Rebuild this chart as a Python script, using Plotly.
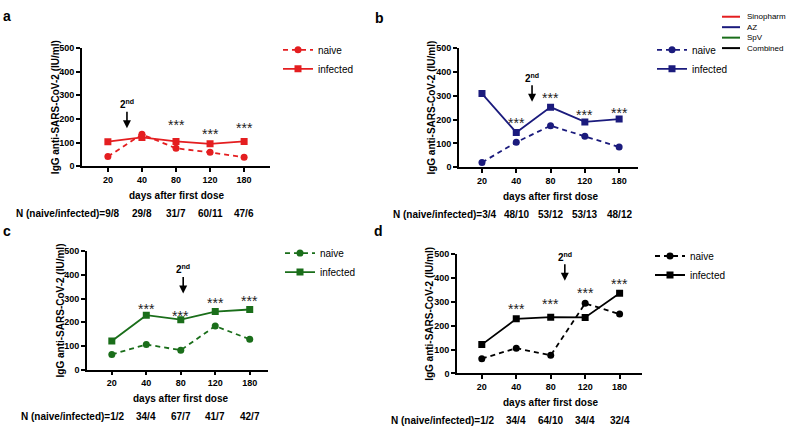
import plotly.graph_objects as go

W, H = 787, 442
FONT = "Liberation Sans, Arial, sans-serif"

# ---------------- data ----------------
days = ["20", "40", "80", "120", "180"]

a_naive = [41, 135, 76, 59, 38]
a_infected = [104, 122, 105, 95, 105]
b_naive = [20, 105, 174, 130, 85]
b_infected = [309, 146, 252, 190, 202]
c_naive = [64, 106, 82, 184, 128]
c_infected = [121, 230, 211, 245, 254]
d_naive = [62, 106, 76, 294, 249]
d_infected = [121, 229, 236, 235, 336]

a_n = ["N (naive/infected)=9/8", "29/8", "31/7", "60/11", "47/6"]
b_n = ["N (naive/infected)=3/4", "48/10", "53/12", "53/13", "48/12"]
c_n = ["N (naive/infected)=1/2", "34/4", "67/7", "41/7", "42/7"]
d_n = ["N (naive/infected)=1/2", "34/4", "64/10", "34/4", "32/4"]

vaccines = ["Sinopharm", "AZ", "SpV", "Combined"]
vaccine_colors = ["#e41e20", "#1b1b7d", "#1a6e1a", "#000000"]

# ---------------- layout config (pixels) ----------------
panels = [
    dict(label="a", naive=a_naive, infected=a_infected, n=a_n, color=vaccine_colors[0],
         box=(82, 270, 44, 165), xr=(-0.76, 4.76),
         stars=[(2, 186), (3, 149), (4, 174)], dose=(0.56, 161),
         legend_xy=(318, 53), label_xy=(7, 11)),
    dict(label="b", naive=b_naive, infected=b_infected, n=b_n, color=vaccine_colors[1],
         box=(459, 638, 44, 166), xr=(-0.67, 4.55),
         stars=[(1, 197), (2, 303), (3, 230), (4, 242)], dose=(1.46, 275),
         legend_xy=(692, 53), label_xy=(379, 13)),
    dict(label="c", naive=c_naive, infected=c_infected, n=c_n, color=vaccine_colors[2],
         box=(87, 268, 252, 373), xr=(-0.72, 4.53),
         stars=[(1, 269), (2, 240), (3, 293), (4, 302)], dose=(2.07, 322),
         legend_xy=(320, 261), label_xy=(7, 231)),
    dict(label="d", naive=d_naive, infected=d_infected, n=d_n, color=vaccine_colors[3],
         box=(457, 642, 255, 377), xr=(-0.72, 4.65),
         stars=[(1, 282), (2, 303), (3, 348), (4, 389)], dose=(2.41, 389),
         legend_xy=(690, 264), label_xy=(378, 231)),
]


def px(x):
    return x / W


def py(y):
    return 1 - y / H


fig = go.Figure()
annotations = []
shapes = []
layout = {}

for i, p in enumerate(panels, start=1):
    xa = "x" if i == 1 else f"x{i}"
    ya = "y" if i == 1 else f"y{i}"
    lg = "legend" if i == 1 else f"legend{i}"
    x0, x1, y0, y1 = p["box"]
    col = p["color"]

    fig.add_trace(go.Scatter(
        x=days, y=p["naive"], name="naive", mode="lines+markers",
        line=dict(color=col, width=1.8, dash="5px,4px"),
        marker=dict(symbol="circle", size=7, color=col),
        xaxis=xa, yaxis=ya, legend=lg))
    fig.add_trace(go.Scatter(
        x=days, y=p["infected"], name="infected", mode="lines+markers",
        line=dict(color=col, width=1.8),
        marker=dict(symbol="square", size=7, color=col),
        xaxis=xa, yaxis=ya, legend=lg))

    axis_common = dict(showline=True, linecolor="black", linewidth=1.6,
                       ticks="outside", ticklen=4, tickwidth=1.6, tickcolor="black",
                       showgrid=False, zeroline=False,
                       tickfont=dict(family=FONT, size=9, color="black", weight="bold"))
    layout["xaxis" if i == 1 else f"xaxis{i}"] = dict(
        domain=[px(x0), px(x1)], range=list(p["xr"]), type="category",
        anchor=ya, **axis_common)
    layout["yaxis" if i == 1 else f"yaxis{i}"] = dict(
        domain=[py(y1), py(y0)], range=[0, 500], tickvals=[0, 100, 200, 300, 400, 500],
        anchor=xa, **axis_common)

    lx, ly = p["legend_xy"]
    layout[lg] = dict(x=px(lx - 40), y=py(ly - 22), xanchor="left", yanchor="top",
                      bgcolor="rgba(0,0,0,0)", borderwidth=0, tracegroupgap=0,
                      itemwidth=30,
                      font=dict(family=FONT, size=10, color="black"))

    # panel label
    annotations.append(dict(text=p["label"], xref="paper", yref="paper",
                            x=px(p["label_xy"][0]), y=py(p["label_xy"][1]),
                            xanchor="center", yanchor="middle", showarrow=False,
                            font=dict(family=FONT, size=14, color="black", weight="bold")))
    # y title
    annotations.append(dict(text="IgG anti-SARS-CoV-2 (IU/ml)", xref="paper", yref="paper",
                            x=px(x0), xshift=-27, y=py((y0 + y1) / 2), textangle=-90,
                            xanchor="center", yanchor="middle", showarrow=False,
                            font=dict(family=FONT, size=10, color="black", weight="bold")))
    # x title
    annotations.append(dict(text="days after first dose", xref=xa, yref="paper",
                            x=2, y=py(y1 + 30), xanchor="center", yanchor="middle",
                            showarrow=False,
                            font=dict(family=FONT, size=10, color="black", weight="bold")))
    # N row
    for k, t in enumerate(p["n"]):
        if k == 0:
            annotations.append(dict(text=t, xref="paper", yref="paper", x=px(x0), xshift=-68,
                                    y=py(y1 + 48.5), xanchor="left", yanchor="middle",
                                    showarrow=False,
                                    font=dict(family=FONT, size=10, color="black", weight="bold")))
        else:
            annotations.append(dict(text=t, xref=xa, yref="paper", x=k,
                                    y=py(y1 + 48.5), xanchor="center", yanchor="middle",
                                    showarrow=False,
                                    font=dict(family=FONT, size=10, color="black", weight="bold")))
    # significance stars
    for sx, sy in p["stars"]:
        annotations.append(dict(text="***", xref=xa, yref=ya, x=sx, y=sy, yshift=-3,
                                xanchor="center", yanchor="middle", showarrow=False,
                                font=dict(family=FONT, size=14, color="#222222")))
    # second dose arrow
    dx, dy = p["dose"]
    annotations.append(dict(text="2<sup>nd</sup>", xref=xa, yref=ya, x=dx, y=dy,
                            showarrow=True, ax=0, ay=-24, arrowhead=2, arrowsize=1,
                            arrowwidth=1.6, arrowcolor="black",
                            font=dict(family=FONT, size=10, color="black", weight="bold")))

# vaccine colour key (top right)
for k, (name, col) in enumerate(zip(vaccines, vaccine_colors)):
    yy = 12 + 10.7 * k
    shapes.append(dict(type="line", xref="paper", yref="paper",
                       x0=px(722), x1=px(740), y0=py(yy), y1=py(yy),
                       line=dict(color=col, width=2)))
    annotations.append(dict(text=name, xref="paper", yref="paper", x=px(745), y=py(yy),
                            xanchor="left", yanchor="middle", showarrow=False,
                            font=dict(family=FONT, size=8, color="black")))

fig.update_layout(
    width=W, height=H, margin=dict(l=0, r=0, t=0, b=0),
    paper_bgcolor="white", plot_bgcolor="white",
    showlegend=True, annotations=annotations, shapes=shapes,
    font=dict(family=FONT, color="black"),
    **layout)

fig.write_html("out.html", config={"displayModeBar": False},
               post_script="document.body.style.margin='0';document.body.style.overflow='hidden';")
